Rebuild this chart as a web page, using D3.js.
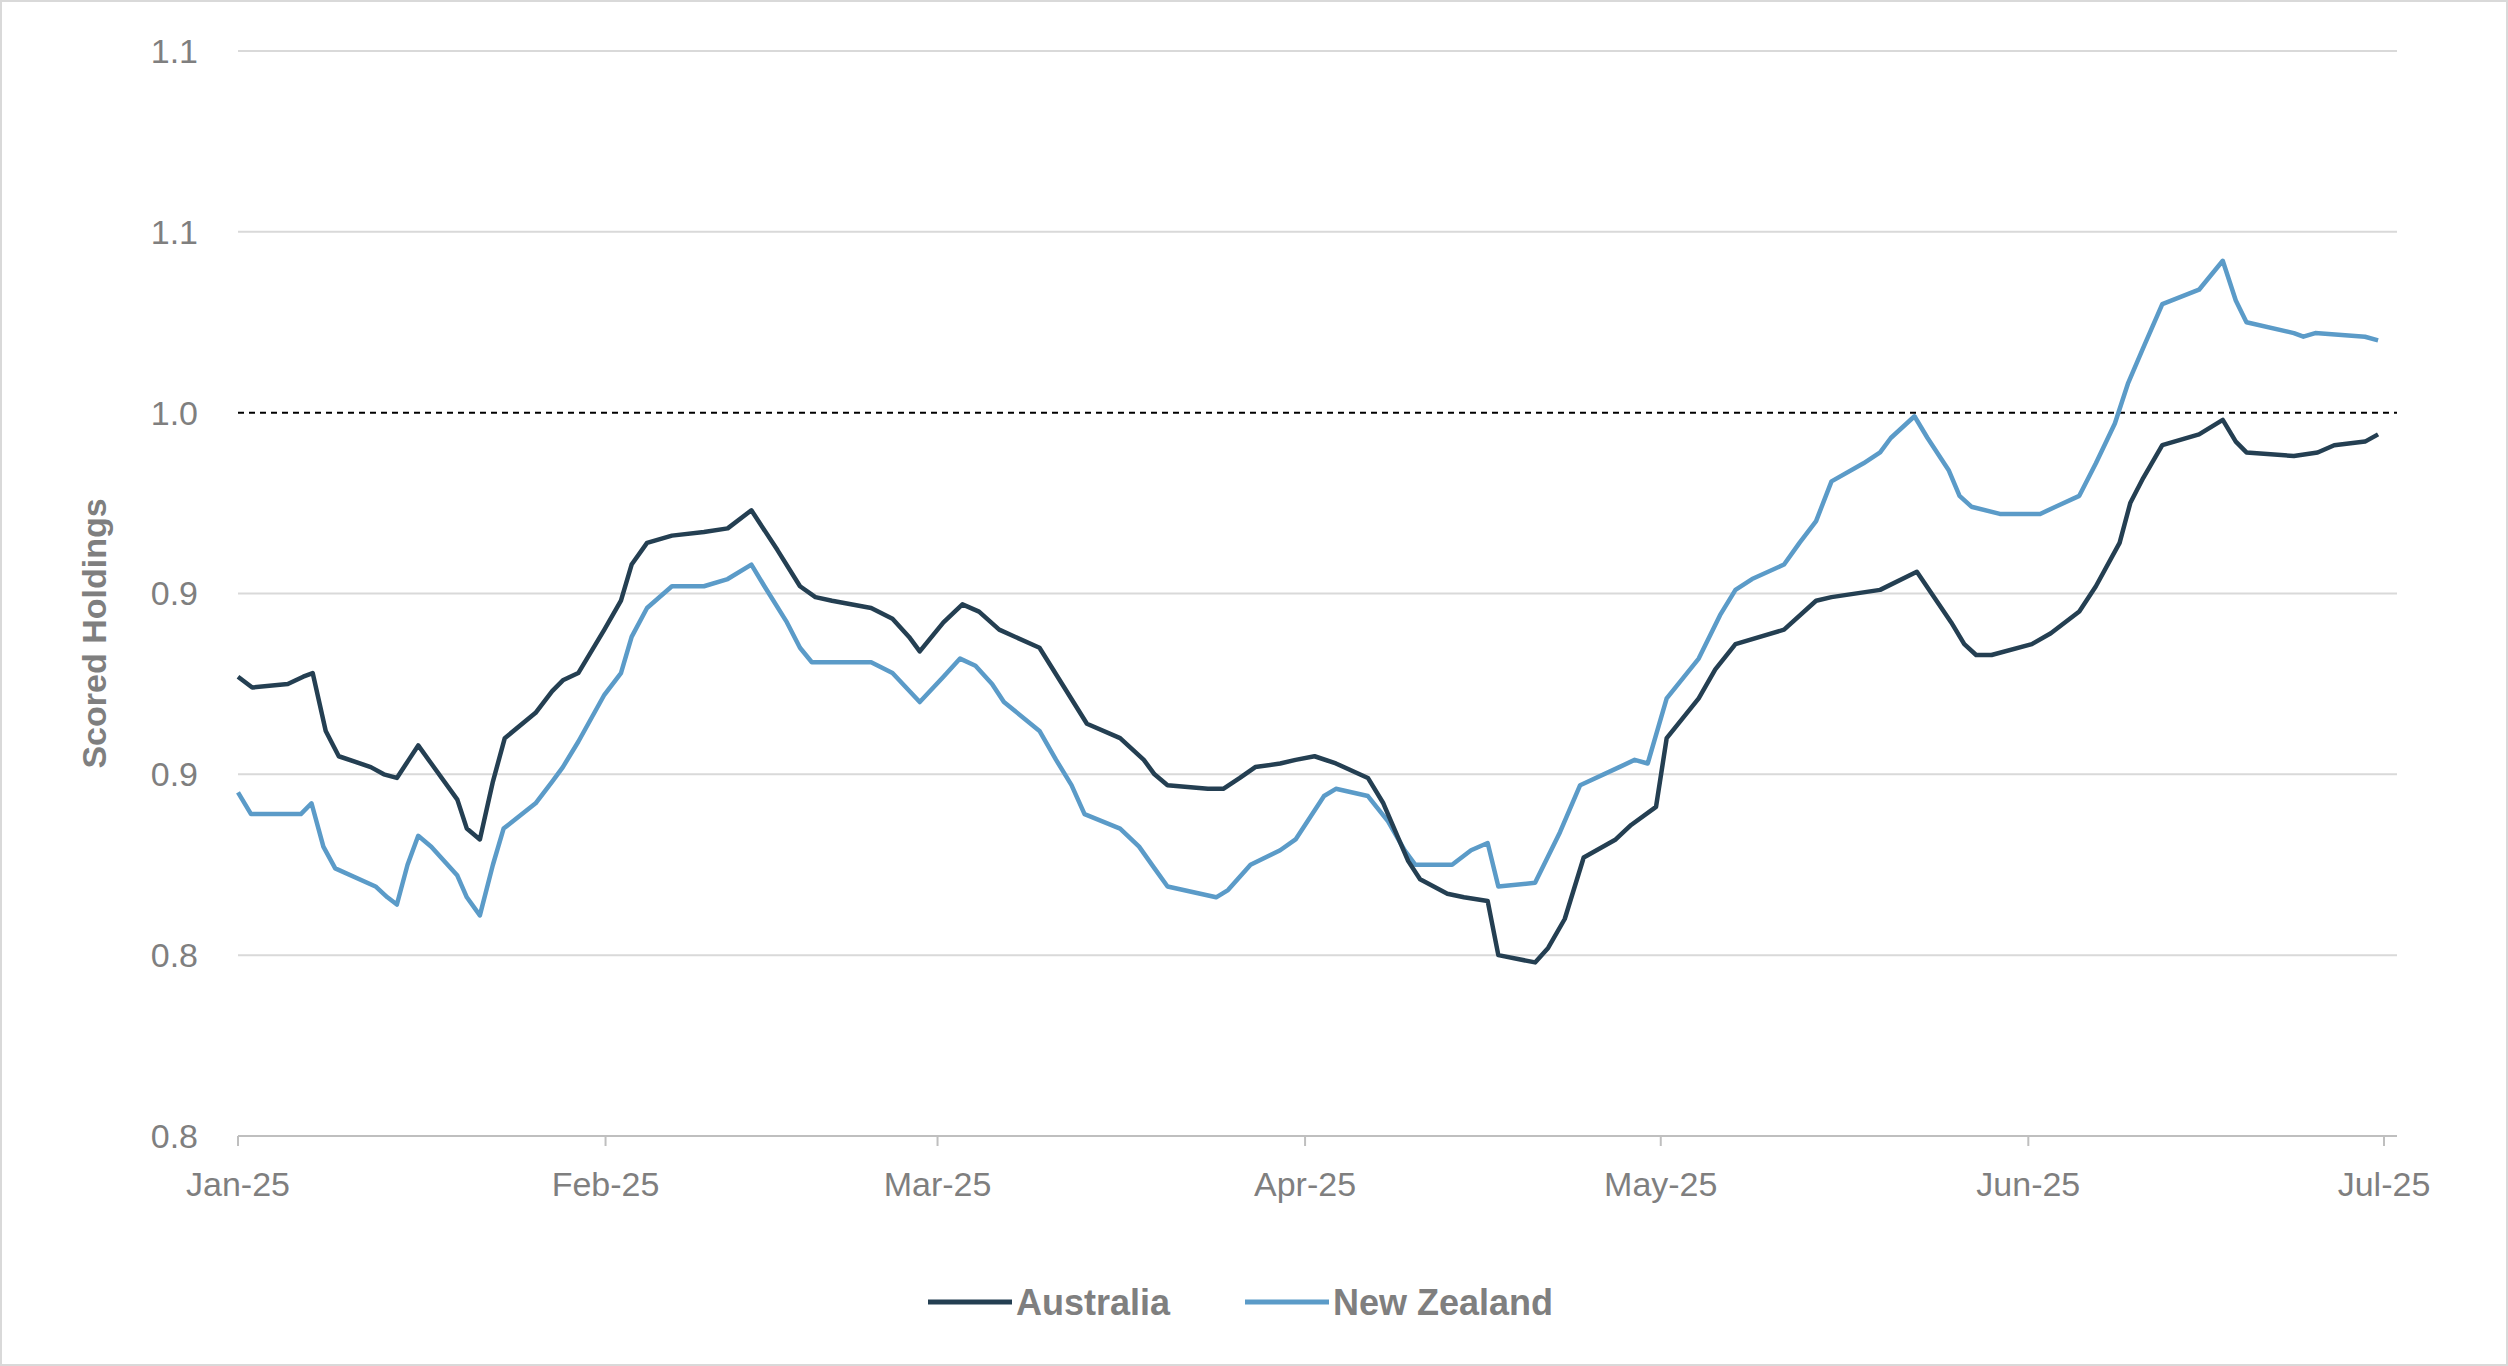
<!DOCTYPE html>
<html><head><meta charset="utf-8">
<script src="https://cdn.jsdelivr.net/npm/d3@7"></script>
<style>body{margin:0;background:#fff}svg{display:block}</style></head>
<body><svg id="c" width="2508" height="1366"></svg>
<script>
const yTicks=[0.80,0.85,0.90,0.95,1.00,1.05,1.10];
const monthLabels=["Jan-25","Feb-25","Mar-25","Apr-25","May-25","Jun-25","Jul-25"];
const auDays=[0,1.2,4.2,5.5,6.3,7.4,8.5,11.2,12.3,13.4,14.4,15.2,16.3,18.5,19.3,20.4,21.5,22.5,25.1,26.5,27.4,28.7,30.9,32.3,33.2,34.5,36.6,39.3,41.3,43.3,45.5,47.4,48.7,50.1,53.4,55.2,56.6,57.5,59.5,61.1,62.5,64.2,67.6,71.6,74.4,76.4,77.3,78.4,81.8,83.1,84.5,85.8,87.9,89.2,90.8,92.6,95.3,96.6,98.7,99.7,102.0,103.4,105.4,106.3,109.4,110.5,111.9,113.5,116.2,117.5,119.6,120.5,123.2,124.6,126.3,130.4,133.1,134.4,138.5,141.6,144.5,145.6,146.6,147.9,151.3,152.9,155.3,156.7,158.7,159.6,160.7,162.3,165.4,167.4,168.5,169.4,173.4,175.4,176.8,179.4,180.5];
const auVals=[.927,.924,.925,.927,.928,.912,.905,.902,.900,.899,.904,.908,.903,.893,.885,.882,.898,.910,.917,.923,.926,.928,.940,.948,.958,.964,.966,.967,.968,.973,.962,.952,.949,.948,.946,.943,.938,.934,.942,.947,.945,.940,.935,.914,.910,.904,.900,.897,.896,.896,.899,.902,.903,.904,.905,.903,.899,.892,.876,.871,.867,.866,.865,.850,.848,.852,.860,.877,.882,.886,.891,.910,.921,.929,.936,.940,.948,.949,.951,.956,.942,.936,.933,.933,.936,.939,.945,.952,.964,.975,.982,.991,.994,.998,.992,.989,.988,.989,.991,.992,.994];
const nzDays=[0,1.1,4.2,5.3,6.2,7.2,8.2,11.6,12.6,13.4,14.3,15.2,16.3,18.5,19.3,20.4,21.5,22.4,25.1,26.5,27.4,28.7,30.9,32.3,33.2,34.5,36.6,39.3,41.3,43.3,44.4,46.3,47.4,48.4,50.1,53.4,55.2,57.5,59.5,60.9,62.2,63.6,64.6,67.6,69.0,70.3,71.4,74.4,76.0,77.3,78.4,82.5,83.5,85.4,87.9,89.2,91.6,92.6,95.3,97.0,98.4,99.3,102.4,104.0,105.4,106.3,109.4,111.5,113.2,116.5,117.8,118.9,120.5,123.2,125.0,126.3,127.7,130.4,131.7,133.1,134.4,137.1,138.5,139.4,141.4,142.5,144.3,145.2,146.2,148.6,152.0,153.3,155.3,156.7,158.3,159.4,160.7,162.3,165.4,167.4,168.5,169.4,173.4,174.2,175.2,179.4,180.5];
const nzVals=[.895,.889,.889,.889,.892,.880,.874,.869,.866,.864,.875,.883,.880,.872,.866,.861,.875,.885,.892,.898,.902,.909,.922,.928,.938,.946,.952,.952,.954,.958,.952,.942,.935,.931,.931,.931,.928,.920,.927,.932,.930,.925,.920,.912,.904,.897,.889,.885,.880,.874,.869,.866,.868,.875,.879,.882,.894,.896,.894,.887,.879,.875,.875,.879,.881,.869,.870,.884,.897,.902,.904,.903,.921,.932,.944,.951,.954,.958,.964,.970,.981,.986,.989,.993,.999,.993,.984,.977,.974,.972,.972,.974,.977,.986,.997,1.008,1.018,1.030,1.034,1.042,1.031,1.025,1.022,1.021,1.022,1.021,1.020];

const svg=d3.select("#c");
const W=2508,H=1366,L=238,R=2397,T=51,B=1136;
svg.append("rect").attr("x",1).attr("y",1).attr("width",W-2).attr("height",H-2).attr("fill","#fff").attr("stroke","#d9d9d9").attr("stroke-width",2);
const t0=new Date(2025,0,1);
const x=d3.scaleTime().domain([t0,new Date(2025,6,1)]).range([L,2384]);
const y=d3.scaleLinear().domain([0.80,1.10]).range([B,T]);
const dayToDate=d=>new Date(t0.getTime()+d*86400000);
const font="Arial, 'Liberation Sans', sans-serif";
// grid
svg.append("g").selectAll("line").data(yTicks.filter(v=>v>0.8&&Math.abs(v-1)>1e-9)).join("line")
 .attr("x1",L).attr("x2",R).attr("y1",d=>y(d)).attr("y2",d=>y(d)).attr("stroke","#d9d9d9").attr("stroke-width",2);
svg.append("line").attr("x1",L).attr("x2",R).attr("y1",y(1)).attr("y2",y(1)).attr("stroke","#000").attr("stroke-width",2).attr("stroke-dasharray","6,5");
svg.append("g").selectAll("text").data(yTicks).join("text").attr("x",L-40).attr("y",d=>y(d)).attr("dy","0.35em")
 .attr("text-anchor","end").attr("font-family",font).attr("font-size",34).attr("fill","#7f7f7f").text(d=>d3.format(".1f")(d));
// x axis
const months=d3.range(7).map(i=>new Date(2025,i,1));
svg.append("line").attr("x1",L).attr("x2",R).attr("y1",B).attr("y2",B).attr("stroke","#bfbfbf").attr("stroke-width",2);
svg.append("g").selectAll("line").data(months).join("line").attr("x1",d=>x(d)).attr("x2",d=>x(d)).attr("y1",B).attr("y2",B+10).attr("stroke","#bfbfbf").attr("stroke-width",2);
svg.append("g").selectAll("text").data(months).join("text").attr("x",d=>x(d)).attr("y",B+60)
 .attr("text-anchor","middle").attr("font-family",font).attr("font-size",34).attr("fill","#7f7f7f").text((d,i)=>monthLabels[i]);
svg.append("text").attr("transform",`translate(${106},${(T+B)/2+40}) rotate(-90)`).attr("text-anchor","middle")
 .attr("font-family",font).attr("font-size",34).attr("font-weight","bold").attr("fill","#7f7f7f").text("Scored Holdings");
const line=d3.line().x(d=>x(dayToDate(d[0]))).y(d=>y(d[1]));
const series=[{name:"Australia",days:auDays,vals:auVals,color:"#243f52"},{name:"New Zealand",days:nzDays,vals:nzVals,color:"#5b9bc8"}];
[series[1],series[0]].forEach(s=>svg.append("path").attr("d",line(s.days.map((d,i)=>[d,s.vals[i]]))).attr("fill","none").attr("stroke",s.color).attr("stroke-width",4.5).attr("stroke-linejoin","round"));
// legend
const lg=[{x:928,s:series[0]},{x:1245,s:series[1]}];
lg.forEach(o=>{
 svg.append("line").attr("x1",o.x).attr("x2",o.x+84).attr("y1",1302).attr("y2",1302).attr("stroke",o.s.color).attr("stroke-width",5);
 svg.append("text").attr("x",o.x+88).attr("y",1302).attr("dy","0.35em").attr("font-family",font).attr("font-size",36).attr("font-weight","bold").attr("fill","#7f7f7f").text(o.s.name);
});
</script></body></html>
